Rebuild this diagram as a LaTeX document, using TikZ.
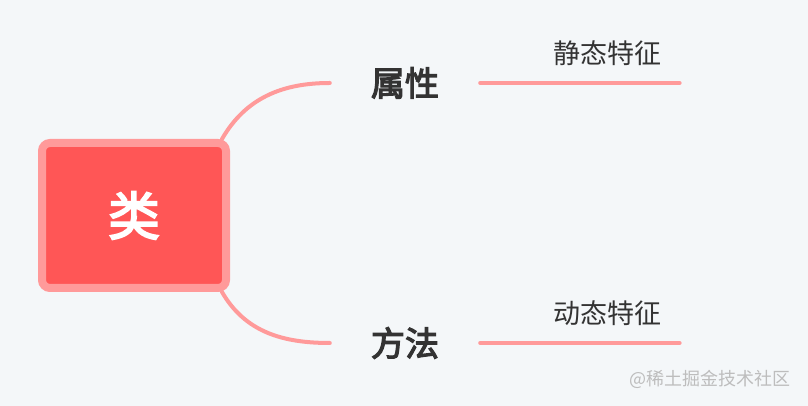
\documentclass[tikz,border=0pt]{standalone}
\usepackage{fontspec}
\setmainfont{Noto Sans CJK SC}[BoldFont={Noto Sans CJK SC}, BoldFeatures={FakeBold=3.5}]
\usepackage{tikz}
\usetikzlibrary{positioning, backgrounds, calc}
\definecolor{canvas}{HTML}{F4F7F9}
\definecolor{rootfill}{HTML}{FF5656}
\definecolor{rootedge}{HTML}{FF9A9A}
\definecolor{branchline}{HTML}{FF9A9A}
\definecolor{darktext}{HTML}{333333}
\definecolor{marktext}{HTML}{BDBDBD}
\tikzset{
  root/.style={
    rectangle, rounded corners=8pt,
    minimum width=184pt, minimum height=145pt,
    draw=rootedge, line width=8pt,
    fill=rootfill, text=white, font=\fontsize{52}{52}\selectfont\bfseries,
  },
  topic/.style={
    rectangle, inner sep=0pt,
    minimum width=150pt, minimum height=40pt,
    text=darktext, font=\fontsize{34}{34}\selectfont\bfseries,
  },
  leaf/.style={
    rectangle, inner xsep=18pt, inner ysep=0pt,
    minimum height=60pt,
    text=darktext, font=\fontsize{27}{27}\selectfont,
  },
  branch/.style={line width=4pt, line cap=round, color=branchline},
  watermark/.style={text=marktext, font=\fontsize{18}{18}\selectfont},
}
\begin{document}
\begin{tikzpicture}[x=1pt,y=1pt]
  \useasboundingbox (0,0) rectangle (808,406);
  \node[root] (cls) at (134,190.5) {类};
  \node[topic] (attr) at (405,323) {属性};
  \node[topic] (meth) at (405,63) {方法};
  \node[leaf,anchor=south west] (static) at ([xshift=55pt]attr.east) {静态特征};
  \node[leaf,anchor=south west] (dynamic) at ([xshift=55pt]meth.east) {动态特征};
  \node[watermark,anchor=south east] (wm) at (794,14) {@稀土掘金技术社区};
  \begin{scope}[on background layer]
    \fill[canvas] (0,0) rectangle (808,406);
    \draw[branch] ([xshift=-8pt]cls.north east) to[out=60,in=180] (attr.west);
    \draw[branch] ([xshift=-8pt]cls.south east) to[out=-60,in=180] (meth.west);
    \draw[branch] (attr.east) -- (static.south west) -- (static.south east);
    \draw[branch] (meth.east) -- (dynamic.south west) -- (dynamic.south east);
  \end{scope}
\end{tikzpicture}
\end{document}
